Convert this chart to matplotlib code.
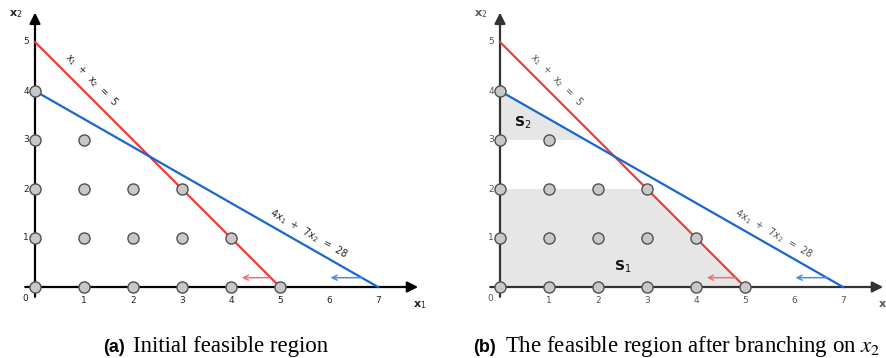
import matplotlib
matplotlib.use("Agg")
import matplotlib.pyplot as plt
from matplotlib.patches import Polygon

# ---- data ----
pts_x = [0, 1, 2, 3, 4, 5, 0, 1, 2, 3, 4, 0, 1, 2, 3, 0, 1, 0]
pts_y = [0, 0, 0, 0, 0, 0, 1, 1, 1, 1, 1, 2, 2, 2, 2, 3, 3, 4]
c1_x = [0, 5]          # x1 + x2 = 5
c1_y = [5, 0]
c2_x = [0, 7]          # 4x1 + 7x2 = 28
c2_y = [4, 0]
x_ticks = [1, 2, 3, 4, 5, 6, 7]
y_ticks = [1, 2, 3, 4, 5]
s1_x = [0, 5, 3, 0]
s1_y = [0, 0, 2, 2]
s2_x = [0, 0, 1.75]
s2_y = [3, 4, 3]

W, H = 886, 358
fig = plt.figure(figsize=(W / 100, H / 100), dpi=100)
U = 49.0  # pixels per unit


def make_axes(x0_px, left_px, right_px, oy_px=287):
    ax = fig.add_axes([left_px / W, 0, (right_px - left_px) / W, 1])
    ax.set_xlim((left_px - x0_px) / U, (right_px - x0_px) / U)
    ax.set_ylim(-(H - oy_px) / U, oy_px / U)
    ax.axis("off")
    return ax


def draw_panel(ax, axcol, txtcol, shaded):
    if shaded:
        ax.add_patch(Polygon(list(zip(s1_x, s1_y)), closed=True,
                             facecolor="#e6e6e6", edgecolor="none", zorder=1))
        ax.add_patch(Polygon(list(zip(s2_x, s2_y)), closed=True,
                             facecolor="#e6e6e6", edgecolor="none", zorder=1))
    # axes with arrows
    ax.annotate("", xy=(7.82, 0), xytext=(-0.2, 0),
                arrowprops=dict(arrowstyle="-|>", color=axcol, lw=1.6,
                                mutation_scale=16, shrinkA=0, shrinkB=0), zorder=2)
    ax.annotate("", xy=(0, 5.6), xytext=(0, -0.2),
                arrowprops=dict(arrowstyle="-|>", color=axcol, lw=1.6,
                                mutation_scale=16, shrinkA=0, shrinkB=0), zorder=2)
    # constraint lines
    ax.plot(c1_x, c1_y, color="#f03c3c", lw=1.6, zorder=3)
    ax.plot(c2_x, c2_y, color="#1a66cc", lw=1.6, zorder=3)
    # small direction arrows
    ax.annotate("", xy=(4.22, 0.19), xytext=(4.8, 0.19),
                arrowprops=dict(arrowstyle="->", color="#f07070", lw=1.1,
                                mutation_scale=9, shrinkA=0, shrinkB=0))
    ax.annotate("", xy=(6.03, 0.19), xytext=(6.67, 0.19),
                arrowprops=dict(arrowstyle="->", color="#4a8fdc", lw=1.1,
                                mutation_scale=9, shrinkA=0, shrinkB=0))
    # integer points
    ax.plot(pts_x, pts_y, "o", ms=8, mfc="#c8c8c8", mec="#505050", mew=1.0,
            zorder=5, linestyle="none")
    # ticks
    for t in x_ticks:
        ax.text(t, -0.27, str(t), ha="center", va="center", fontsize=6.5,
                color=txtcol)
    for t in y_ticks:
        ax.text(-0.12, t, str(t), ha="right", va="center", fontsize=6.5,
                color=txtcol)
    ax.text(-0.2, -0.23, "0", ha="center", va="center", fontsize=6.5,
            color=txtcol)
    # axis labels
    ax.text(7.85, -0.37, "x$_1$", ha="center", va="center", fontsize=8,
            color=txtcol, fontweight="bold")
    ax.text(-0.4, 5.56, "x$_2$", ha="center", va="center", fontsize=8,
            color=txtcol, fontweight="bold")
    # line labels
    ax.text(1.16, 4.22, "x$_1$  +  x$_2$  =  5", ha="center", va="center",
            rotation=-45, fontsize=7, color=txtcol, rotation_mode="anchor")
    ax.text(5.59, 1.08, "4x$_1$  +  7x$_2$  =  28", ha="center", va="center",
            rotation=-29.7, fontsize=7, color=txtcol, rotation_mode="anchor")


ax_a = make_axes(35, 0, 443)
draw_panel(ax_a, "black", "#222222", False)

ax_b = make_axes(500, 443, 886)
draw_panel(ax_b, "#333333", "#555555", True)
ax_b.text(0.47, 3.35, "S$_2$", ha="center", va="center", fontsize=10,
          color="#111111", fontweight="bold")
ax_b.text(2.51, 0.41, "S$_1$", ha="center", va="center", fontsize=10,
          color="#111111", fontweight="bold")

# captions
serif = "Liberation Serif"
yb = 1 - 352 / H
fig.text(103 / W, yb, "(a)", fontsize=13, family="Liberation Sans",
         fontweight="bold", va="baseline", ha="left")
fig.text(133 / W, yb, "Initial feasible region", fontsize=16.5,
         family=serif, va="baseline", ha="left")
fig.text(473 / W, yb, "(b)", fontsize=13, family="Liberation Sans",
         fontweight="bold", va="baseline", ha="left")
fig.text(505 / W, yb, "The feasible region after branching on $x_2$",
         fontsize=16.5, family=serif, va="baseline", ha="left",
         math_fontfamily="stix")

fig.savefig("out.png", dpi=100)
